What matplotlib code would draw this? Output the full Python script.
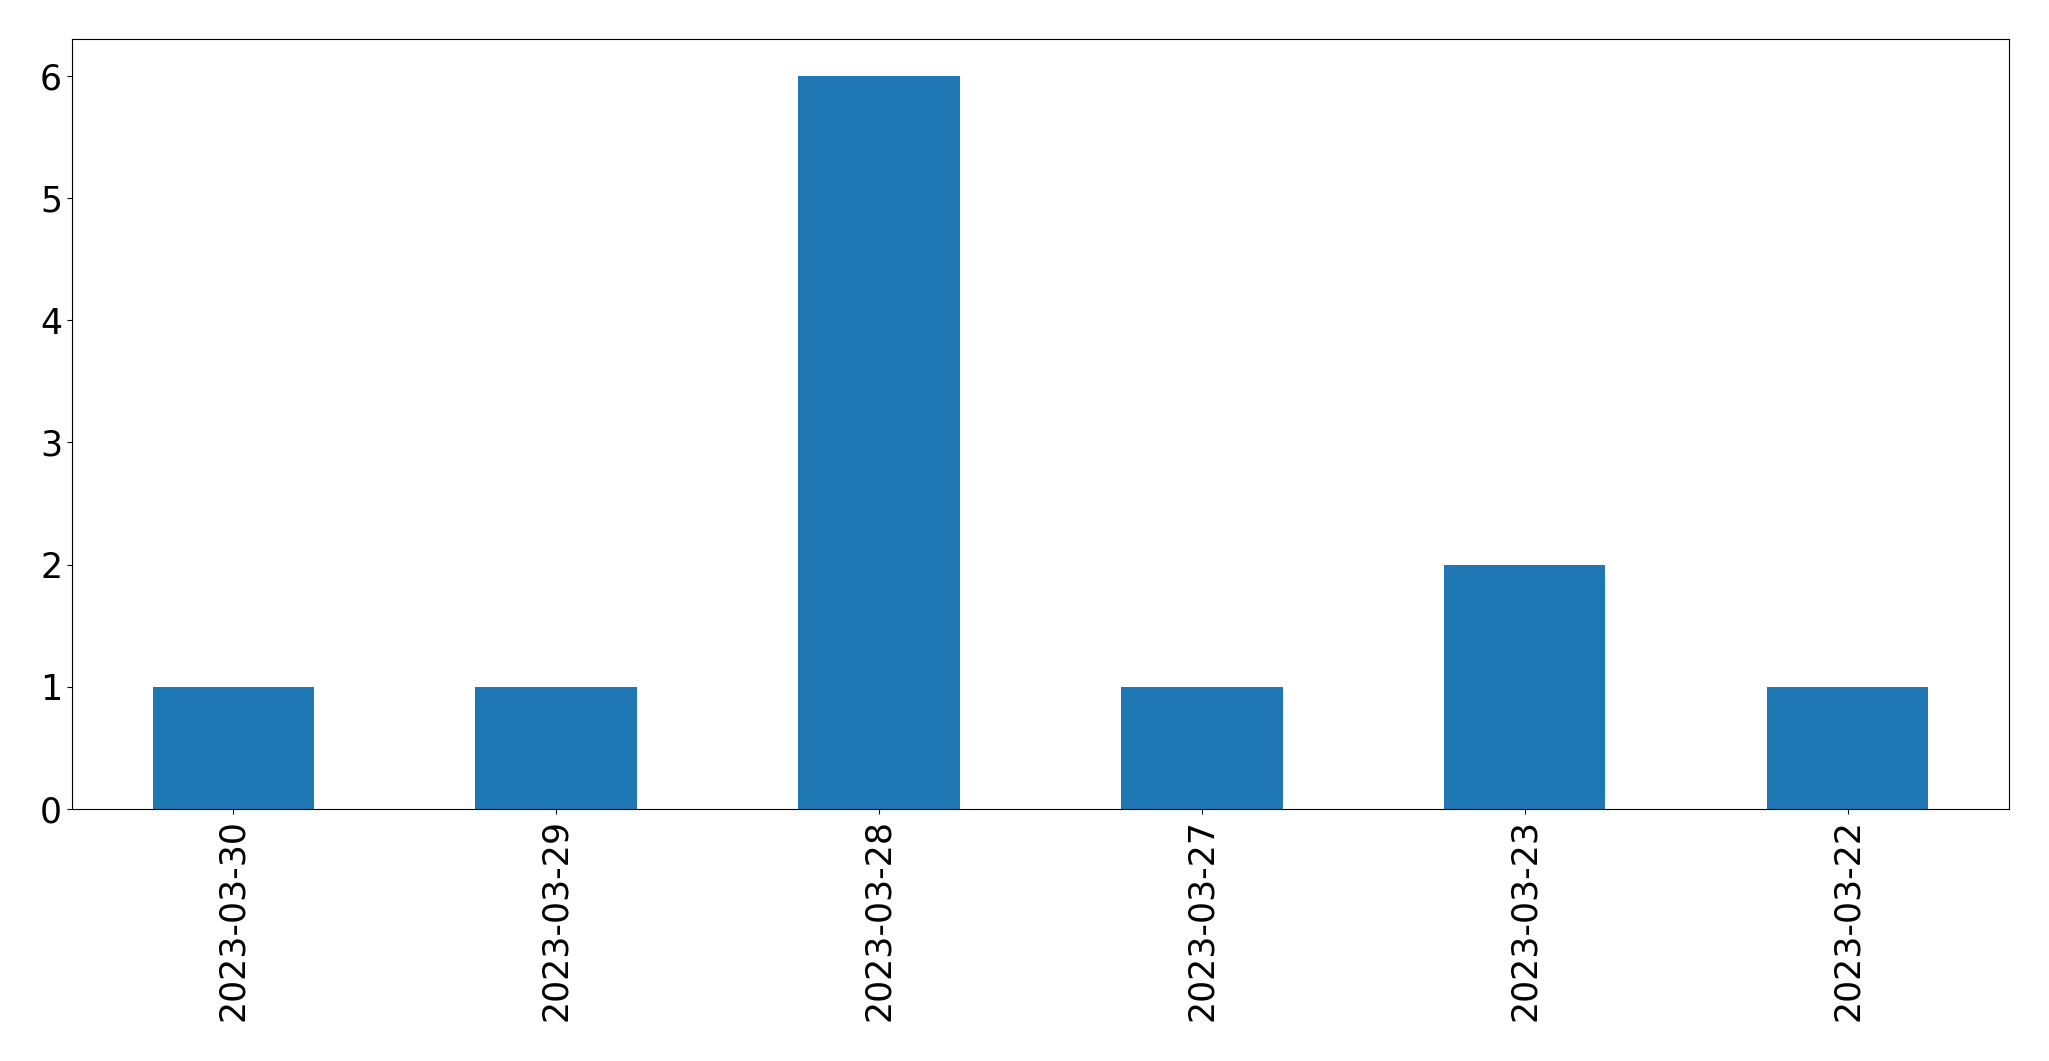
import pandas as pd
import matplotlib
matplotlib.use("Agg")
import matplotlib.pyplot as plt

dates = ["2023-03-30", "2023-03-29", "2023-03-28", "2023-03-27", "2023-03-23", "2023-03-22"]
counts = [1, 1, 6, 1, 2, 1]

s = pd.Series(counts, index=dates)

fig = plt.figure(figsize=(20.49, 10.61), dpi=100)
ax = fig.add_axes([0.0351, 0.2375, 0.9454, 0.7257])
s.plot(kind="bar", ax=ax, color="#1f77b4", fontsize=25)

fig.savefig("out.png", dpi=100)
